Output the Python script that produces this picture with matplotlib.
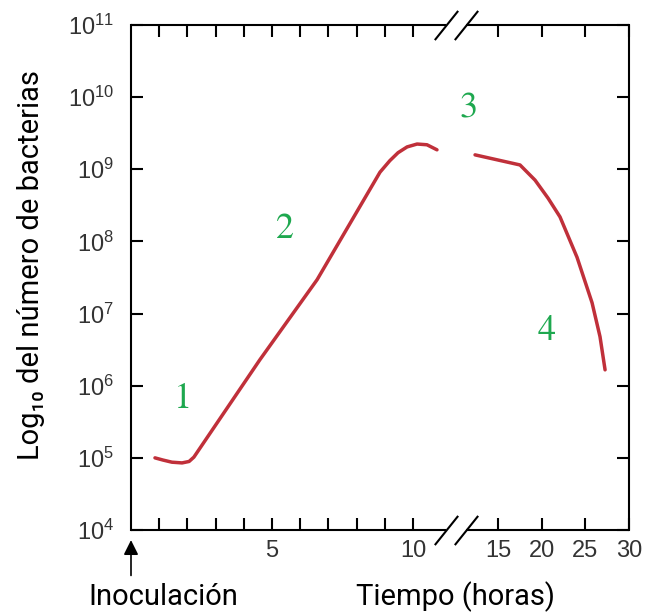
import numpy as np
import matplotlib
matplotlib.use('Agg')
import matplotlib.pyplot as plt
from matplotlib.ticker import FixedLocator, NullLocator, FuncFormatter

plt.rcParams['mathtext.fontset'] = 'custom'
plt.rcParams['mathtext.rm'] = 'Liberation Sans'
plt.rcParams['mathtext.it'] = 'Liberation Sans:italic'
plt.rcParams['mathtext.bf'] = 'Liberation Sans:bold'

# curve (hours, log10 of count)
t_growth = [0.85, 1.13, 1.45, 1.81, 2.06, 2.23, 4.57, 6.60, 8.83, 9.18, 9.47,
            9.79, 10.24, 10.82, 11.41]
log_growth = [5.00, 4.97, 4.94, 4.93, 4.95, 5.01, 6.36, 7.47, 8.96, 9.12, 9.23,
              9.31, 9.35, 9.34, 9.27]
t_decline = [13.65, 17.52, 19.24, 20.73, 22.10, 24.05, 25.77, 26.68, 27.26]
log_decline = [9.20, 9.06, 8.85, 8.60, 8.34, 7.78, 7.15, 6.68, 6.22]

phase_labels = ['1', '2', '3', '4']
phase_t = [1.77, 5.46, 13.2, 20.5]
phase_log = [5.83, 8.19, 9.87, 6.77]

x_major = [5, 10, 15, 20, 25, 30]
x_minor = [1, 2, 3, 4, 6, 7, 8, 9]
y_decades = [4, 5, 6, 7, 8, 9, 10, 11]
break_t = [11.94, 13.12]

# broken time axis: 0-10 h wide, 10-15 h squeezed, 15-30 h narrow
knots_t = [0, 10, 15, 30]
knots_pos = [0, 282, 367, 498]


def fwd(x):
    return np.interp(x, knots_t, knots_pos)


def inv(x):
    return np.interp(x, knots_pos, knots_t)


red = '#c0303a'
green = '#1ea84f'

fig = plt.figure(figsize=(6.45, 6.14), dpi=100)
ax = fig.add_axes([131 / 645, 84 / 614, 498 / 645, 505 / 614])

ax.set_xscale('function', functions=(fwd, inv))
ax.set_yscale('log')
ax.set_xlim(0, 30)
ax.set_ylim(10.0 ** y_decades[0], 10.0 ** y_decades[-1])

ax.plot(t_growth, 10 ** np.array(log_growth), color=red, lw=2.5,
        solid_capstyle='round', solid_joinstyle='round')
ax.plot(t_decline, 10 ** np.array(log_decline), color=red, lw=2.5,
        solid_capstyle='round', solid_joinstyle='round')

for lab, t, lg in zip(phase_labels, phase_t, phase_log):
    s = r'$\mathrm{%s}$' % lab if lab == '1' else r'$\mathit{%s}$' % lab
    ax.text(t, 10 ** lg, s, color=green, fontsize=26, ha='center', va='center',
            math_fontfamily='stix')

# ticks
ax.xaxis.set_major_locator(FixedLocator(x_major))
ax.xaxis.set_minor_locator(FixedLocator(x_minor))
ax.xaxis.set_major_formatter(FuncFormatter(lambda v, p: '%d' % v))
ax.yaxis.set_major_locator(FixedLocator([10.0 ** d for d in y_decades]))
ax.yaxis.set_minor_locator(NullLocator())
ax.yaxis.set_major_formatter(FuncFormatter(
    lambda v, p: r'$\mathregular{10^{%d}}$' % round(np.log10(v))))
ax.tick_params(which='both', direction='in', length=8.5, width=1.5,
               top=True, right=True, color='black')
ax.tick_params(axis='x', which='major', labelsize=17, pad=7)
ax.tick_params(axis='y', labelsize=17, pad=12)
for lbl in ax.get_xticklabels() + ax.get_yticklabels():
    lbl.set_fontfamily('Liberation Sans')
    lbl.set_color('#333333')

# frame with break marks
for side in ['left', 'right']:
    ax.spines[side].set_linewidth(1.5)
for side in ['top', 'bottom']:
    ax.spines[side].set_visible(False)
xtr = ax.get_xaxis_transform()
for yy in [0, 1]:
    ax.plot([0, break_t[0]], [yy, yy], color='black', lw=1.5, transform=xtr,
            clip_on=False, solid_capstyle='butt')
    ax.plot([break_t[1], 30], [yy, yy], color='black', lw=1.5, transform=xtr,
            clip_on=False, solid_capstyle='butt')
    ax.plot(break_t, [yy, yy], ls='none', marker=[(-0.8, -1), (0.8, 1)],
            markersize=21, markeredgewidth=1.5, markeredgecolor='black',
            transform=xtr, clip_on=False)

# inoculation arrow
ax.annotate('', xy=(0, -0.02), xycoords=('data', 'axes fraction'),
            xytext=(0, -0.09), textcoords=('data', 'axes fraction'),
            arrowprops=dict(arrowstyle='-|>', color='black', lw=1.2,
                            mutation_scale=22, shrinkA=0, shrinkB=0))

lab_font = ['Roboto', 'DejaVu Sans']
fig.text(163 / 645, 1 - 597 / 614, 'Inoculación', family=lab_font,
         fontsize=21, ha='center', va='center')
fig.text(456 / 645, 1 - 597 / 614, 'Tiempo (horas)', family=lab_font,
         fontsize=21, ha='center', va='center')
fig.text(31 / 645, 1 - 265 / 614, 'Log₁₀ del número de bacterias',
         family=lab_font, fontsize=21, ha='center', va='center', rotation=90)

fig.savefig('out.png', dpi=100)
